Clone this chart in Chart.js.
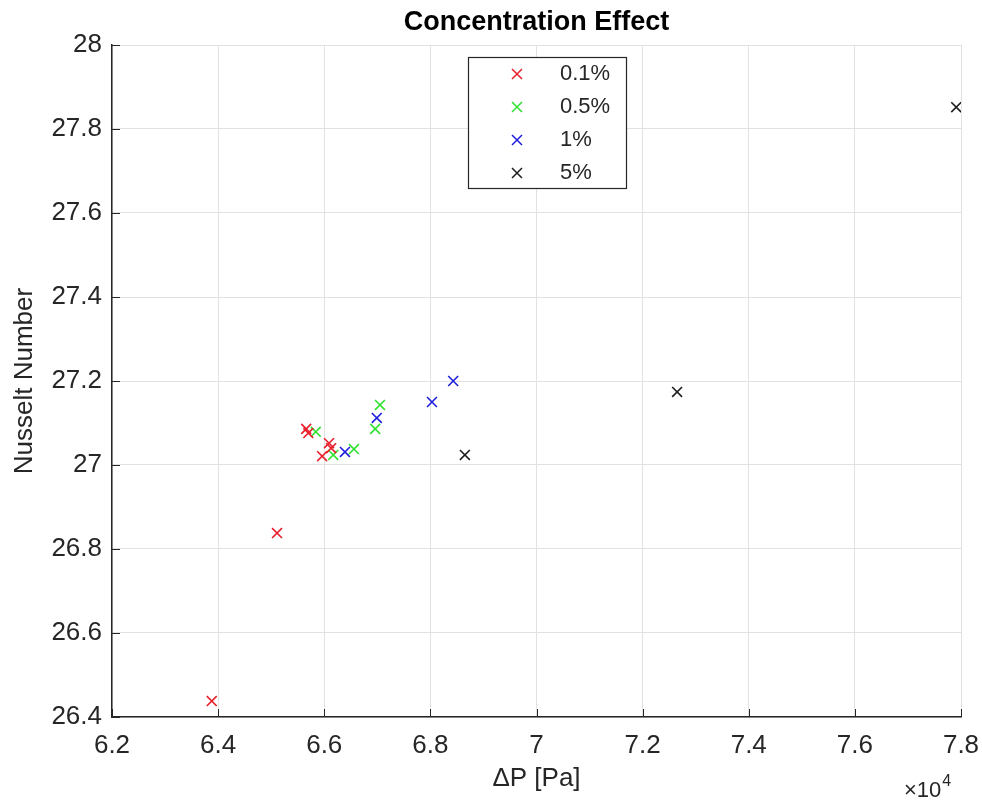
<!DOCTYPE html>
<html>
<head>
<meta charset="utf-8">
<title>Concentration Effect</title>
<script src="https://cdn.jsdelivr.net/npm/chart.js@4.4.1/dist/chart.umd.min.js"></script>
<style>
    html, body { margin: 0; padding: 0; background: #fff; }
    #wrap { width: 982px; height: 800px; }
</style>
</head>
<body>
<div id="wrap"><canvas id="nusseltChart" width="982" height="800"></canvas></div>
<script>
// Pressure drop in units of 1e4 Pa vs Nusselt number, one series per concentration
const seriesLabels = ['0.1%', '0.5%', '1%', '5%'];
const seriesColors = ['rgb(232,30,42)', 'rgb(48,226,48)', 'rgb(30,30,220)', 'rgb(30,30,30)'];

const dp01 = [6.388, 6.511, 6.566, 6.570, 6.609, 6.613, 6.596];
const nu01 = [26.438, 26.838, 27.086, 27.076, 27.052, 27.040, 27.021];

const dp05 = [6.584, 6.617, 6.656, 6.696, 6.705];
const nu05 = [27.079, 27.024, 27.038, 27.086, 27.143];

const dp1 = [6.639, 6.699, 6.803, 6.843];
const nu1 = [27.031, 27.112, 27.150, 27.200];

const dp5 = [6.865, 7.265, 7.791];
const nu5 = [27.024, 27.174, 27.852];

const xTicks = [6.2, 6.4, 6.6, 6.8, 7, 7.2, 7.4, 7.6, 7.8];
const yTicks = [26.4, 26.6, 26.8, 27, 27.2, 27.4, 27.6, 27.8, 28];

const textColor = '#262626';
const font = 'Arial, "Liberation Sans", Helvetica, sans-serif';

function toPoints(xs, ys) {
    return xs.map((x, i) => ({ x: x, y: ys[i] }));
}

const allX = [dp01, dp05, dp1, dp5];
const allY = [nu01, nu05, nu1, nu5];

const datasets = seriesLabels.map((label, i) => ({
    label: label,
    data: toPoints(allX[i], allY[i]),
    pointStyle: 'crossRot',
    pointRadius: 7,
    pointHoverRadius: 7,
    borderWidth: 1.6,
    borderColor: seriesColors[i],
    backgroundColor: seriesColors[i],
    showLine: false
}));

// MATLAB-like extras: title, inward ticks, legend box, exponent note
const figureDecor = {
    id: 'figureDecor',
    afterDraw(chart) {
        const ctx = chart.ctx;
        const area = chart.chartArea;
        const xs = chart.scales.x;
        const ys = chart.scales.y;
        ctx.save();

        // inward tick marks
        ctx.strokeStyle = textColor;
        ctx.lineWidth = 1;
        ctx.beginPath();
        xTicks.forEach(v => {
            const px = Math.round(xs.getPixelForValue(v)) + 0.5;
            ctx.moveTo(px, area.bottom);
            ctx.lineTo(px, area.bottom - 8);
        });
        yTicks.forEach(v => {
            const py = Math.round(ys.getPixelForValue(v)) + 0.5;
            ctx.moveTo(area.left, py);
            ctx.lineTo(area.left + 8, py);
        });
        ctx.stroke();

        // title
        ctx.fillStyle = '#000';
        ctx.font = 'bold 27px ' + font;
        ctx.textAlign = 'center';
        ctx.textBaseline = 'middle';
        ctx.fillText('Concentration Effect', (area.left + area.right) / 2, 23);

        // x10^4 exponent
        ctx.fillStyle = textColor;
        ctx.textAlign = 'left';
        ctx.textBaseline = 'alphabetic';
        ctx.font = '22px ' + font;
        const base = '\u00d710';
        ctx.fillText(base, 904, 797);
        const bw0 = ctx.measureText(base).width;
        ctx.font = '16px ' + font;
        ctx.fillText('4', 904 + bw0 + 1, 786);

        // legend
        const bx = 468.5, by = 57.5, bw = 158, bh = 131;
        ctx.fillStyle = '#fff';
        ctx.fillRect(bx, by, bw, bh);
        ctx.strokeStyle = '#262626';
        ctx.lineWidth = 1.2;
        ctx.strokeRect(bx, by, bw, bh);
        ctx.font = '22px ' + font;
        ctx.textBaseline = 'middle';
        chart.data.datasets.forEach((ds, i) => {
            const cy = 74 + i * 33;
            const cx = 517;
            const r = 5;
            ctx.strokeStyle = ds.borderColor;
            ctx.lineWidth = 1.5;
            ctx.beginPath();
            ctx.moveTo(cx - r, cy - r);
            ctx.lineTo(cx + r, cy + r);
            ctx.moveTo(cx - r, cy + r);
            ctx.lineTo(cx + r, cy - r);
            ctx.stroke();
            ctx.fillStyle = textColor;
            ctx.fillText(ds.label, 560, cy);
        });
        ctx.restore();
    }
};

const ctx = document.getElementById('nusseltChart').getContext('2d');
new Chart(ctx, {
    type: 'scatter',
    data: { datasets: datasets },
    options: {
        responsive: false,
        animation: false,
        events: [],
        layout: { padding: { top: 45, right: 21, left: 0, bottom: 0 } },
        plugins: {
            legend: { display: false },
            tooltip: { enabled: false }
        },
        scales: {
            x: {
                type: 'linear',
                min: 6.2,
                max: 7.8,
                afterBuildTicks: axis => { axis.ticks = xTicks.map(v => ({ value: v })); },
                afterFit: axis => {
                    axis.height = 83;
                    axis.paddingLeft = 0;
                    axis.paddingRight = 0;
                },
                ticks: {
                    color: textColor,
                    font: { family: font, size: 26 },
                    padding: 13,
                    maxRotation: 0,
                    callback: v => String(v)
                },
                grid: { color: '#e2e2e2', lineWidth: 1, drawTicks: false },
                border: { display: true, color: textColor, width: 1.5 },
                title: {
                    display: true,
                    text: '\u0394P [Pa]',
                    color: textColor,
                    font: { family: font, size: 26 },
                    padding: { top: 0, bottom: 6 }
                }
            },
            y: {
                type: 'linear',
                min: 26.4,
                max: 28,
                afterBuildTicks: axis => { axis.ticks = yTicks.map(v => ({ value: v })); },
                afterFit: axis => {
                    axis.width = 112;
                    axis.paddingTop = 0;
                    axis.paddingBottom = 0;
                },
                ticks: {
                    color: textColor,
                    font: { family: font, size: 26 },
                    padding: 10,
                    callback: v => String(v)
                },
                grid: { color: '#e2e2e2', lineWidth: 1, drawTicks: false },
                border: { display: true, color: textColor, width: 1.5 },
                title: {
                    display: true,
                    text: 'Nusselt Number',
                    color: textColor,
                    font: { family: font, size: 26 },
                    padding: { top: 9, bottom: 0 }
                }
            }
        }
    },
    plugins: [figureDecor]
});
</script>
</body>
</html>
